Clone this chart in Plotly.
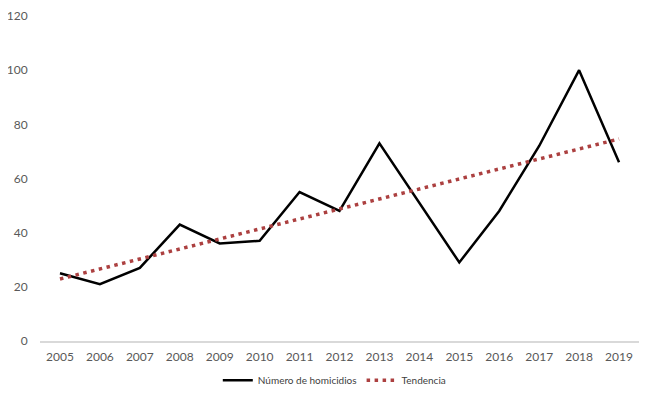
import plotly.graph_objects as go

years = [str(y) for y in range(2005, 2020)]
homicidios = [25, 21, 27, 43, 36, 37, 55, 48, 73, 51, 29, 48, 72, 100, 66]
trend_years = ["2005", "2019"]
trend_values = [22.9, 74.6]
y_ticks = [0, 20, 40, 60, 80, 100, 120]

fig = go.Figure()
fig.add_trace(go.Scatter(x=years, y=homicidios, mode="lines", name="Número de homicidios",
                         line=dict(color="black", width=2.5)))
fig.add_trace(go.Scatter(x=trend_years, y=trend_values, mode="lines", name="Tendencia",
                         line=dict(color="#ac4040", width=3.5, dash="3.5px,4.5px")))
fig.add_annotation(x="2016", y=74.5, text="Pendiente: 3,7", showarrow=False,
                   font=dict(size=9, color="#404040"))
fig.update_layout(
    width=650, height=398,
    margin=dict(l=32, r=19, t=8, b=65, autoexpand=False),
    paper_bgcolor="white", plot_bgcolor="white",
    font=dict(family="Lato, Liberation Sans, sans-serif", size=12, color="#595959"),
    showlegend=True,
    legend=dict(orientation="h", xref="container", x=0.502, xanchor="center",
                yref="container", y=0.065, yanchor="middle",
                font=dict(size=10, color="#404040")),
    xaxis=dict(type="category", categoryorder="array", categoryarray=years,
               range=[-0.5, 14.5], showgrid=False, showline=True, linecolor="#d9d9d9",
               linewidth=1.5, ticks="outside", ticklen=4, tickcolor="white",
               automargin=False, tickfont=dict(size=12)),
    yaxis=dict(range=[0, 120], tickvals=y_ticks, showgrid=False, zeroline=False,
               showline=False, ticks="outside", ticklen=9, tickcolor="white",
               automargin=False, ticklabeloverflow="allow", tickfont=dict(size=12)),
)
fig.write_html("out.html")
